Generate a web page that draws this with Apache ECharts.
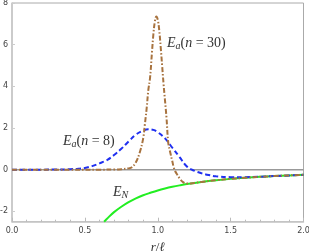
<!DOCTYPE html>
<html><head><meta charset="utf-8">
<script src="https://cdn.jsdelivr.net/npm/echarts@6/dist/echarts.min.js"></script>
<style>html,body{margin:0;padding:0;background:#fff}#c{width:309px;height:252px}</style>
</head><body><div id="c"></div>
<script>
// r values and energies
var rN = [0.632,0.65,0.7,0.75,0.8,0.85,0.9,0.95,1.0,1.05,1.1,1.15,1.2,1.3,1.4,1.5,1.6,1.7,1.8,1.9,2.0];
var eN = [-2.5,-2.37,-2.04,-1.78,-1.56,-1.38,-1.23,-1.11,-1.0,-0.907,-0.826,-0.756,-0.694,-0.592,-0.51,-0.444,-0.391,-0.346,-0.309,-0.277,-0.25];

var r8 = [0,0.1,0.2,0.3,0.4,0.45,0.5,0.55,0.6,0.65,0.7,0.75,0.8,0.85,0.9,0.935,0.97,1.0,1.05,1.1,1.15,1.2,1.25,1.3,1.35,1.4,1.5,1.6,1.7,1.8,1.9,2.0];
var e8 = [0,0,0,0.003,0.02,0.04,0.08,0.17,0.3,0.45,0.7,1.0,1.35,1.68,1.87,1.94,1.91,1.8,1.5,1.05,0.6,0.15,-0.05,-0.17,-0.26,-0.32,-0.36,-0.36,-0.34,-0.31,-0.28,-0.25];

var r30 = [0,0.2,0.4,0.6,0.7,0.75,0.8,0.82,0.85,0.878,0.9,0.912,0.924,0.935,0.947,0.96,0.97,0.98,0.99,1.0,1.01,1.02,1.03,1.04,1.05,1.06,1.072,1.085,1.1,1.11,1.12,1.13,1.15,1.17,1.2,1.25,1.3,1.4,1.5,1.6,1.7,1.8,1.9,2.0];
var e30 = [0,0,0,0,0.003,0.02,0.06,0.1,0.35,0.86,1.5,2.2,2.95,3.8,4.4,5.6,6.5,7.1,7.35,7.2,6.7,5.9,5.0,4.1,3.3,2.5,1.3,0.85,0.4,0.1,-0.08,-0.2,-0.42,-0.58,-0.67,-0.64,-0.59,-0.51,-0.444,-0.391,-0.346,-0.309,-0.277,-0.25];

var zeroR = [0,2];
var zeroE = [0,0];

var xTicks = [0,0.5,1.0,1.5,2.0];
var yTicks = [-2,0,2,4,6,8];

function pairs(a,b){return a.map(function(v,i){return [v,b[i]];});}

var chart = echarts.init(document.getElementById('c'), null, {renderer:'canvas'});
var serif = 'Liberation Serif';
var lab = {fontSize:8, color:'#444', fontFamily:'DejaVu Sans'};
var rt = {
  e:{fontFamily:serif,fontStyle:'italic',fontSize:14,fill:'#333'},
  s:{fontFamily:serif,fontStyle:'italic',fontSize:10,fill:'#333',padding:[7,0,0,0]},
  i:{fontFamily:serif,fontStyle:'italic',fontSize:14,fill:'#333'},
  p:{fontFamily:serif,fontSize:14,fill:'#333'}
};
chart.setOption({
  animation:false,
  grid:{left:12,right:5.5,top:3,bottom:30.3,containLabel:false,outerBoundsMode:'none',show:true,borderColor:'#aaa',borderWidth:1},
  xAxis:{type:'value',min:0,max:2,interval:0.5,
    axisLine:{show:true,onZero:false,lineStyle:{color:'#c8c8c8',width:1.5}},
    axisTick:{show:true,inside:true,length:4,lineStyle:{color:'#bbb'}},
    minorTick:{show:true,splitNumber:5,length:2,lineStyle:{color:'#bbb'}},
    splitLine:{show:false},
    axisLabel:Object.assign({margin:5,formatter:function(v){return v.toFixed(1);}},lab),
    name:'{i|r}{p|/}{i|ℓ}',nameLocation:'middle',nameGap:19,
    nameTextStyle:{rich:{i:{fontFamily:serif,fontStyle:'italic',fontSize:13,color:'#333'},p:{fontFamily:serif,fontSize:13,color:'#333'}}}
  },
  yAxis:{type:'value',min:-2.5,max:8,
    axisLine:{show:true,onZero:false,lineStyle:{color:'#c8c8c8',width:1.5}},
    axisTick:{show:true,inside:true,length:3,customValues:yTicks,lineStyle:{color:'#ccc'}},
    splitLine:{show:false},
    axisLabel:Object.assign({margin:4,customValues:yTicks,formatter:function(v){return String(v);}},lab)
  },
  series:[
    {type:'line',data:pairs(zeroR,zeroE),symbol:'none',lineStyle:{color:'#999',width:1.5},z:1,silent:true},
    {type:'line',data:pairs(rN,eN),symbol:'none',smooth:0.4,lineStyle:{color:'#22ee22',width:2},z:2},
    {type:'line',data:pairs(r8,e8),symbol:'none',smooth:0.4,lineStyle:{color:'#1f2ff0',width:2,type:[5,3]},z:3},
    {type:'line',data:pairs(r30,e30),symbol:'none',smooth:0.4,lineStyle:{color:'#a8733f',width:2,type:[5,2,1.5,2]},z:4}
  ],
  graphic:[
    {type:'text',left:167,top:36,style:{text:'{e|E}{s|a}{p|(}{i|n}{p| = 30)}',rich:rt}},
    {type:'text',left:63,top:134,style:{text:'{e|E}{s|a}{p|(}{i|n}{p| = 8)}',rich:rt}},
    {type:'text',left:113,top:185,style:{text:'{e|E}{s|N}',rich:rt}}
  ]
});
</script></body></html>
